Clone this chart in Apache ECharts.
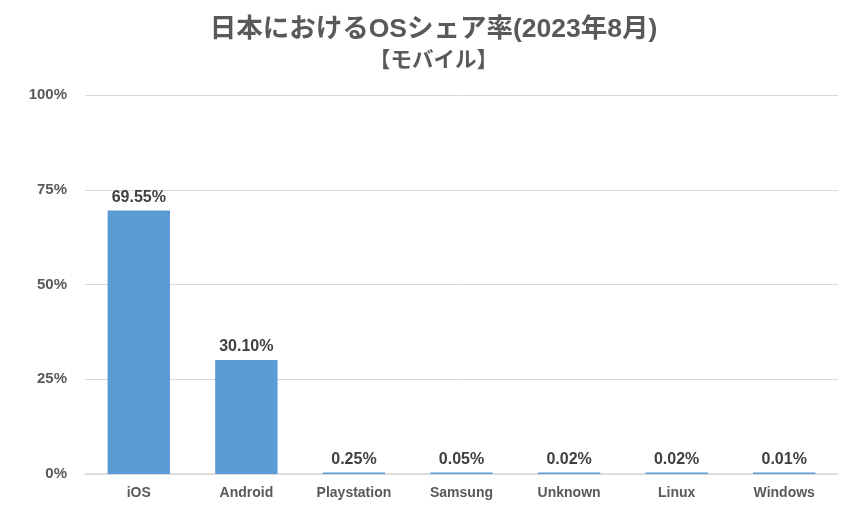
<!DOCTYPE html>
<html><head><meta charset="utf-8">
<script src="https://cdn.jsdelivr.net/npm/echarts@6/dist/echarts.min.js"></script>
<style>html,body{margin:0;padding:0;background:#fff}#c{width:867px;height:513px}</style>
</head><body><div id="c"></div>
<script>
const categories = ['iOS','Android','Playstation','Samsung','Unknown','Linux','Windows'];
const shares = [69.55, 30.10, 0.25, 0.05, 0.02, 0.02, 0.01];
const titleText = '日本におけるOSシェア率(2023年8月)';
const subtitleText = '【モバイル】';
const yTicks = [0, 25, 50, 75, 100];

const chart = echarts.init(document.getElementById('c'));
chart.setOption({
  animation: false,
  backgroundColor: '#fff',
  title: [{
    text: titleText, left: 'center', top: 11,
    textStyle: {fontFamily: 'Liberation Sans, Noto Sans CJK JP', fontSize: 26.5, fontWeight: 'bold', color: '#595959'}
  },{
    text: subtitleText, left: 'center', top: 45,
    textStyle: {fontFamily: 'Liberation Sans, Noto Sans CJK JP', fontSize: 21.5, fontWeight: 'bold', color: '#595959'}
  }],
  grid: {left: 85, right: 29, top: 95, bottom: 39, containLabel: false},
  xAxis: {
    type: 'category', data: categories,
    axisLine: {lineStyle: {color: '#D9D9D9', width: 1.5}},
    axisTick: {show: false},
    axisLabel: {color: '#595959', fontFamily: 'Liberation Sans', fontWeight: 'bold', fontSize: 14, margin: 12}
  },
  yAxis: {
    type: 'value', min: yTicks[0], max: yTicks[yTicks.length-1], interval: 25,
    axisLine: {show: false}, axisTick: {show: false},
    splitLine: {lineStyle: {color: '#D9D9D9', width: 1}},
    axisLabel: {color: '#595959', fontFamily: 'Liberation Sans', fontWeight: 'bold', fontSize: 15, margin: 18, formatter: '{value}%'}
  },
  series: [{
    type: 'bar', data: shares, barCategoryGap: '42%', barMinHeight: 1.5,
    itemStyle: {color: '#5B9BD5'},
    label: {show: true, position: 'top', distance: 5, color: '#404040', fontFamily: 'Liberation Sans', fontWeight: 'bold', fontSize: 16,
      formatter: p => p.value.toFixed(2) + '%'}
  }]
});
</script></body></html>
